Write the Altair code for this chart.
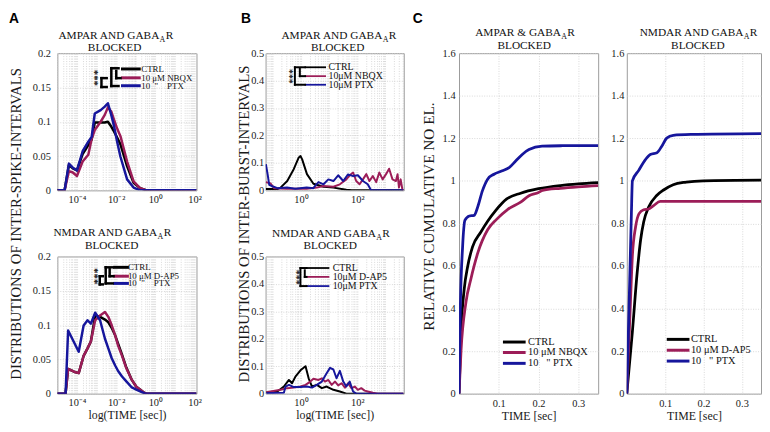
import altair as alt
import pandas as pd

SERIF = "Liberation Serif"
SANS = "Liberation Sans"
C_CTRL = "#000000"
C_MAG = "#9c1d58"
C_BLUE = "#16169c"

# ---------------- Panel A (inter-spike intervals), time given as log10(seconds)
a1_log_t = [-5.0, -4.63, -4.41, -4.21, -4.0, -3.71, -3.42, -3.25, -3.09, -2.79, -2.58,
            -2.42, -2.25, -2.11, -1.95, -1.78, -1.44, -1.11, -0.77, -0.44, 2.1]
a1_ctrl = [0, 0, 0.037, 0.032, 0.029, 0.053, 0.066, 0.074, 0.099, 0.099, 0.099,
           0.100, 0.093, 0.086, 0.077, 0.067, 0.035, 0.011, 0.003, 0, 0]
a1_nbqx = [0, 0, 0.028, 0.026, 0.021, 0.042, 0.052, 0.075, 0.088, 0.100, 0.110,
           0.121, 0.115, 0.103, 0.090, 0.079, 0.042, 0.013, 0.003, 0, 0]
a1_ptx = [0, 0, 0.039, 0.033, 0.029, 0.057, 0.071, 0.078, 0.112, 0.117, 0.122,
          0.127, 0.110, 0.094, 0.071, 0.049, 0.016, 0.004, 0, 0, 0]

a2_log_t = [-5.0, -4.58, -4.45, -4.15, -3.91, -3.66, -3.46, -3.29, -3.07, -2.82, -2.57,
            -2.4, -2.23, -2.05, -1.9, -1.7, -1.48, -1.2, -0.97, -0.6, -0.47, 2.1]
a2_ctrl = [0, 0, 0.036, 0.032, 0.030, 0.055, 0.066, 0.076, 0.114, 0.112, 0.108,
           0.104, 0.096, 0.085, 0.073, 0.057, 0.038, 0.020, 0.010, 0.002, 0, 0]
a2_dap5 = [0, 0, 0.036, 0.032, 0.030, 0.055, 0.066, 0.076, 0.107, 0.114, 0.119,
           0.112, 0.100, 0.085, 0.070, 0.055, 0.037, 0.020, 0.010, 0.002, 0, 0]
a2_ptx = [0, 0, 0.092, 0.075, 0.061, 0.0995, 0.107, 0.102, 0.118, 0.107, 0.080,
          0.066, 0.052, 0.041, 0.033, 0.025, 0.018, 0.009, 0.006, 0.001, 0, 0]

# ---------------- Panel B (inter-burst intervals), time given as log10(seconds)
b1_ctrl_log_t = [-1.25, -0.84, -0.73, -0.49, -0.26, -0.08, -0.02, 0.04, 0.21, 0.44, 0.80,
                 1.15, 1.61, 1.8, 3.64]
b1_ctrl = [0.005, 0.005, 0.01, 0.034, 0.077, 0.12, 0.125, 0.113, 0.059, 0.024, 0.013,
           0.01, 0.002, 0, 0]
b1_nbqx_log_t = [-1.25, -1.08, -0.96, -0.5, 0.2, 0.56, 0.80, 1.15, 1.38, 1.61,
                 1.73, 1.85, 1.96, 2.08, 2.20, 2.32, 2.43, 2.55, 2.67, 2.78,
                 2.90, 3.02, 3.13, 3.25, 3.37, 3.43, 3.48, 3.54, 3.60, 3.64]
b1_nbqx = [0.03, 0.025, 0.008, 0.006, 0.006, 0.01, 0.016, 0.013, 0.022, 0.04,
           0.055, 0.065, 0.034, 0.022, 0.04, 0.059, 0.034, 0.052, 0.03, 0.065,
           0.04, 0.059, 0.079, 0.04, 0.034, 0.059, 0.01, 0.04, 0.004, 0]
b1_ptx_log_t = [-1.25, -1.19, -1.13, -1.02, -0.84, -0.5, -0.2, 0.2, 0.44, 0.50, 0.62,
                0.80, 0.97, 1.15, 1.32, 1.50, 1.67, 1.85, 2.02, 2.20, 2.37, 2.49, 3.64]
b1_ptx = [0.095, 0.06, 0.02, 0.015, 0.008, 0.01, 0.006, 0.01, 0.008, 0.016, 0.03,
          0.022, 0.04, 0.034, 0.055, 0.034, 0.058, 0.052, 0.055, 0.034, 0.022, 0, 0]

b2_ctrl_log_t = [-1.23, -0.84, -0.61, -0.43, -0.32, -0.20, -0.02, 0.16, 0.27, 0.39, 0.56,
                 0.74, 0.91, 1.15, 1.38, 1.61, 3.64]
b2_ctrl = [0.005, 0.008, 0.026, 0.05, 0.038, 0.062, 0.085, 0.1, 0.056, 0.026, 0.032,
           0.02, 0.026, 0.014, 0.008, 0, 0]
b2_dap5_log_t = [-1.23, -0.73, -0.49, -0.26, -0.02, 0.16, 0.33, 0.44, 0.62, 0.74,
                 0.85, 0.97, 1.09, 1.21, 1.32, 1.44, 1.56, 1.67, 1.79, 1.91,
                 2.02, 2.14, 2.26, 2.37, 2.55, 2.72, 3.64]
b2_dap5 = [0.005, 0.014, 0.02, 0.022, 0.026, 0.032, 0.044, 0.054, 0.05, 0.056,
           0.044, 0.05, 0.032, 0.044, 0.03, 0.038, 0.022, 0.038, 0.02, 0.026,
           0.014, 0.02, 0.011, 0.008, 0.003, 0, 0]
b2_ptx_log_t = [-1.23, -0.61, -0.55, -0.43, -0.26, -0.02, 0.21, 0.39, 0.56, 0.74, 0.91,
                1.03, 1.15, 1.26, 1.38, 1.50, 1.61, 1.73, 1.85, 1.96, 3.64]
b2_ptx = [0.002, 0.003, 0.026, 0.032, 0.024, 0.024, 0.026, 0.022, 0.032, 0.044, 0.074,
          0.094, 0.088, 0.056, 0.083, 0.044, 0.026, 0.044, 0.008, 0, 0]

# ---------------- Panel C (relative cumulative number of electrodes), time in seconds
c1_ctrl_t = [0, 0.005, 0.013, 0.022, 0.034, 0.055, 0.072, 0.092, 0.12, 0.155, 0.2, 0.255, 0.3, 0.35]
c1_ctrl = [0, 0.29, 0.49, 0.6, 0.69, 0.76, 0.81, 0.86, 0.915, 0.942, 0.963, 0.978, 0.986, 0.992]
c1_nbqx_t = [0, 0.005, 0.0175, 0.03, 0.047, 0.072, 0.095, 0.122, 0.155, 0.176, 0.2, 0.21, 0.255, 0.3, 0.35]
c1_nbqx = [0, 0.2, 0.43, 0.54, 0.66, 0.77, 0.82, 0.865, 0.9, 0.93, 0.945, 0.955, 0.965, 0.972, 0.978]
c1_ptx_t = [0, 0.003, 0.009, 0.015, 0.026, 0.038, 0.047, 0.059, 0.072, 0.088, 0.109, 0.126,
            0.1425, 0.159, 0.176, 0.209, 0.26, 0.35]
c1_ptx = [0, 0.38, 0.69, 0.815, 0.835, 0.838, 0.877, 0.954, 1.008, 1.031, 1.047, 1.062,
          1.093, 1.124, 1.147, 1.163, 1.165, 1.166]

c2_ctrl_t = [0, 0.0145, 0.027, 0.036, 0.044, 0.057, 0.078, 0.096, 0.121, 0.155, 0.2, 0.35]
c2_ctrl = [0, 0.289, 0.567, 0.722, 0.807, 0.877, 0.931, 0.957, 0.982, 0.994, 1.0, 1.003]
c2_dap5_t = [0, 0.0085, 0.0145, 0.023, 0.032, 0.044, 0.057, 0.07, 0.087, 0.35]
c2_dap5 = [0, 0.38, 0.645, 0.784, 0.846, 0.864, 0.868, 0.884, 0.903, 0.903]
c2_ptx_t = [0, 0.0077, 0.012, 0.0146, 0.0307, 0.0486, 0.0614, 0.0785, 0.0913, 0.104, 0.121, 0.168, 0.35]
c2_ptx = [0, 0.537, 0.846, 1.0, 1.048, 1.10, 1.124, 1.132, 1.163, 1.201, 1.214, 1.218, 1.222]

ONE = pd.DataFrame({"k": [0]})

CHAR_W = {"A": .722, "M": .889, "P": .556, "R": .667, " ": .25, "N": .722, "D": .722,
          "G": .722, "B": .667, "&": .778}


def text_w(s, fs):
    return sum(CHAR_W.get(ch, 0.6) for ch in s) * fs


def txt(s, x, y, size, align="left", baseline="alphabetic", font=SERIF, weight="normal",
        angle=0, color="#111111"):
    return alt.Chart(ONE).mark_text(text=s, align=align, baseline=baseline, font=font,
                                    fontSize=size, fontWeight=weight, angle=angle,
                                    color=color).encode(x=alt.value(x), y=alt.value(y))


def hseg(x1, x2, y, color="#000000", w=2.5):
    return alt.Chart(ONE).mark_rule(color=color, strokeWidth=w, strokeCap="square").encode(
        x=alt.value(x1), x2=alt.value(x2), y=alt.value(y))


def vseg(x, y1, y2, color="#000000", w=2.5):
    return alt.Chart(ONE).mark_rule(color=color, strokeWidth=w, strokeCap="square").encode(
        x=alt.value(x), y=alt.value(y1), y2=alt.value(y2))


def title_block(main, cx, y1, y2, fs=11.5):
    sub = fs * 0.7
    total = text_w(main, fs) + 0.722 * sub + 0.667 * fs
    end = cx - total / 2 + text_w(main, fs)
    return [
        txt(main, end, y1, fs, align="right"),
        txt("A", end + 0.3, y1 + 3, sub),
        txt("R", end + 0.722 * sub + 0.6, y1, fs),
        txt("BLOCKED", cx, y2, fs, align="center"),
    ]


def legend(x1, x2, ys, tx, labels, fs, lw):
    out = []
    for y, lab, col in zip(ys, labels, [C_CTRL, C_MAG, C_BLUE]):
        out.append(hseg(x1, x2, y, col, lw))
        out.append(txt(lab, tx, y, fs, baseline="middle"))
    return out


SUP = {-4: "10\u207b\u2074", -2: "10\u207b\u00b2", 0: "10\u2070", 2: "10\u00b2"}


def log_label_expr(exps):
    expr = "''"
    for e in exps:
        expr = f"(abs(log(datum.value)/LN10 - ({e})) < 0.001 ? '{SUP[e]}' : {expr})"
    return expr


AXIS_TXT = dict(labelFont=SERIF, titleFont=SERIF, labelFontSize=10.5, labelColor="#1a1a1a",
                titleColor="#1a1a1a", titleFontWeight="normal")


def x_log_axis(values, exps, title=None, pad=4):
    return alt.Axis(values=values, labelExpr=log_label_expr(exps), labelOverlap=False,
                    labelFlush=False, labelPadding=pad, grid=True, titleFontSize=12,
                    titlePadding=2, title=title, **AXIS_TXT)


def y_axis(values, pad, title=None, tx=0, ty=0, tfs=15):
    kw = dict(values=values, format="~g", labelPadding=pad, grid=True, title=title, **AXIS_TXT)
    if title:
        kw.update(titleFontSize=tfs, titleX=tx, titleY=ty, titleAlign="center",
                  titleBaseline="bottom", titleAngle=270)
    return alt.Axis(**kw)


def panel(series, xscale, yscale, xaxis, yaxis, w, h, sw, interp, annots):
    layers = []
    for xs, ys, col in series:
        df = pd.DataFrame({"t": xs, "v": ys})
        layers.append(
            alt.Chart(df).mark_line(color=col, strokeWidth=sw, interpolate=interp, clip=True,
                                    strokeJoin="round")
            .encode(x=alt.X("t:Q", scale=xscale, axis=xaxis),
                    y=alt.Y("v:Q", scale=yscale, axis=yaxis)))
    return alt.layer(*layers, *annots).properties(width=w, height=h)


def secs(log_list):
    return [10.0 ** e for e in log_list]


# ---------------- scales / axes
a_ticks = [m * 10.0 ** e for e in range(-5, 2) for m in range(1, 10)] + [100.0]
a_xscale = alt.Scale(type="log", domain=[1e-5, 10 ** 2.1], nice=False)
a_yscale = alt.Scale(domain=[0, 0.2], nice=False, zero=False)
b_lo, b_hi = 10 ** -1.26, 10 ** 3.65
b_ticks = [m * 10.0 ** e for e in range(-2, 4) for m in range(1, 10) if b_lo <= m * 10.0 ** e <= b_hi]
b_xscale = alt.Scale(type="log", domain=[b_lo, b_hi], nice=False)
b_yscale = alt.Scale(domain=[0, 0.5], nice=False, zero=False)
c_xscale = alt.Scale(domain=[0, 0.35], nice=False, zero=False)
c_yscale = alt.Scale(domain=[0, 1.6], nice=False, zero=False)

a_yvals = [0, 0.05, 0.1, 0.15, 0.2]
b_yvals = [0, 0.1, 0.2, 0.3, 0.4, 0.5]
c_yvals = [0, 0.2, 0.4, 0.6, 0.8, 1.0, 1.2, 1.4, 1.6]

W_A, H_A = 141, 139
W_B = 140
W_C1, W_C2, H_C = 141, 136, 345

a1_yaxis = y_axis(a_yvals, 7, "DISTRIBUTIONS OF INTER-SPIKE-INTERVALS", -34, 172.5)
a2_yaxis = y_axis(a_yvals, 7)
b1_yaxis = y_axis(b_yvals, 2, "DISTRIBUTIONS OF INTER-BURST-INTERVALS", -14, 172.5)
b2_yaxis = y_axis(b_yvals, 2)
c1_yaxis = y_axis(c_yvals, 4, "RELATIVE CUMULATIVE NO EL.", -23, 165, 15.5)
c2_yaxis = y_axis(c_yvals, 3)
c_xaxis = alt.Axis(values=[0.1, 0.2, 0.3], format="~g", labelPadding=5, grid=True,
                   title="TIME [sec]", titleFontSize=12, titlePadding=2, labelFlush=False,
                   **AXIS_TXT)

ditto_a = "10\u00a0\u00a0\"\u00a0\u00a0\u00a0\u00a0PTX"
ditto_c = "10\u00a0\u00a0\u00a0\"\u00a0PTX"
LETTER_Y = -42

# ---------------- A top
a1_ann = (title_block("AMPAR AND GABA", 58, -14.5, -2)
          + legend(66, 83, [16, 25, 33], 85, ["CTRL", "10 \u03bcM NBQX", ditto_a], 9, 3)
          + [vseg(54.7, 15.3, 33.3), hseg(54.7, 62, 15.3), hseg(54.7, 62, 33.3),
             vseg(59.7, 18, 25.3), hseg(59.7, 64, 25.3),
             vseg(44.7, 25.3, 34.3), hseg(44.7, 50, 25.3), hseg(44.7, 50, 34.3),
             txt("***", 37.3, 25, 11, align="center", baseline="middle", weight="bold", angle=90),
             txt("A", -49, LETTER_Y, 14, font=SANS, weight="bold", baseline="top", color="#000000")])
a1 = panel([(secs(a1_log_t), a1_ctrl, C_CTRL), (secs(a1_log_t), a1_nbqx, C_MAG),
            (secs(a1_log_t), a1_ptx, C_BLUE)],
           a_xscale, a_yscale, x_log_axis(a_ticks, [-4, -2, 0, 2]), a1_yaxis,
           W_A, H_A, 2.5, "linear", a1_ann)

# ---------------- A bottom
a2_ann = (title_block("NMDAR AND GABA", 55, -21, -7.5)
          + legend(58, 71, [11, 20, 27.3], 71.5, ["CTRL", "10 \u03bcM D-AP5", ditto_a], 9, 3)
          + [vseg(49, 11, 27.3), hseg(49, 56, 11), hseg(49, 56, 27.3),
             vseg(53, 13, 20), hseg(53, 57, 20),
             vseg(43, 20, 28.3), hseg(43, 46, 20), hseg(43, 46, 28.3),
             txt("***", 37.3, 20, 11, align="center", baseline="middle", weight="bold", angle=90)])
a2 = panel([(secs(a2_log_t), a2_ctrl, C_CTRL), (secs(a2_log_t), a2_dap5, C_MAG),
            (secs(a2_log_t), a2_ptx, C_BLUE)],
           a_xscale, a_yscale, x_log_axis(a_ticks, [-4, -2, 0, 2], "log(TIME [sec])"), a2_yaxis,
           W_A, H_A, 2.5, "linear", a2_ann)

# ---------------- B top
b1_ann = (title_block("AMPAR AND GABA", 73, -14, -2.5)
          + legend(40.3, 60.3, [14.3, 23.3, 32], 63.7, ["CTRL", "10\u03bcM NBQX", "10\u03bcM PTX"], 10, 1.8)
          + [vseg(29.7, 14.3, 32, w=2), hseg(29.7, 40, 14.3, w=2), hseg(29.7, 40, 32, w=2),
             vseg(34.7, 16, 23.3, w=2), hseg(34.7, 40, 23.3, w=2),
             txt("***", 23.7, 23.5, 10, align="center", baseline="middle", weight="bold", angle=90),
             txt("B", -25, LETTER_Y, 14, font=SANS, weight="bold", baseline="top", color="#000000")])
b1 = panel([(secs(b1_ctrl_log_t), b1_ctrl, C_CTRL), (secs(b1_nbqx_log_t), b1_nbqx, C_MAG),
            (secs(b1_ptx_log_t), b1_ptx, C_BLUE)],
           b_xscale, b_yscale, x_log_axis(b_ticks, [0, 2]), b1_yaxis,
           W_B, H_A, 2.0, "linear", b1_ann)

# ---------------- B bottom
b2_ann = (title_block("NMDAR AND GABA", 65.5, -20, -7.3)
          + legend(42, 63.7, [11.7, 20.7, 30], 68, ["CTRL", "10\u03bcM D-AP5", "10\u03bcM PTX"], 10, 1.8)
          + [vseg(35.3, 11.7, 30, w=2), hseg(35.3, 41.5, 11.7, w=2), hseg(35.3, 41.5, 30, w=2),
             vseg(39.7, 14, 20.7, w=2), hseg(39.7, 41.5, 20.7, w=2),
             txt("***", 30.3, 21, 10, align="center", baseline="middle", weight="bold", angle=90)])
b2 = panel([(secs(b2_ctrl_log_t), b2_ctrl, C_CTRL), (secs(b2_dap5_log_t), b2_dap5, C_MAG),
            (secs(b2_ptx_log_t), b2_ptx, C_BLUE)],
           b_xscale, b_yscale, x_log_axis(b_ticks, [0, 2], "log(TIME [sec])"), b2_yaxis,
           W_B, H_A, 2.0, "linear", b2_ann)

# ---------------- C left
c1_ann = (title_block("AMPAR & GABA", 66, -17.3, -4)
          + legend(46, 66, [292.7, 303.3, 314.3], 70, ["CTRL", "10 \u03bcM NBQX", ditto_c], 10.5, 3)
          + [txt("C", -47, LETTER_Y, 14, font=SANS, weight="bold", baseline="top", color="#000000")])
c1 = panel([(c1_ctrl_t, c1_ctrl, C_CTRL), (c1_nbqx_t, c1_nbqx, C_MAG), (c1_ptx_t, c1_ptx, C_BLUE)],
           c_xscale, c_yscale, c_xaxis, c1_yaxis, W_C1, H_C, 2.8, "monotone", c1_ann)

# ---------------- C right
c2_ann = (title_block("NMDAR AND GABA", 72, -17.3, -4)
          + legend(42, 62, [290, 301, 312], 65, ["CTRL", "10 \u03bcM D-AP5", ditto_c], 10.5, 3))
c2 = panel([(c2_ctrl_t, c2_ctrl, C_CTRL), (c2_dap5_t, c2_dap5, C_MAG), (c2_ptx_t, c2_ptx, C_BLUE)],
           c_xscale, c_yscale, c_xaxis, c2_yaxis, W_C2, H_C, 2.8, "monotone", c2_ann)

ab = alt.concat(a1, b1, a2, b2, columns=2, spacing={"row": 67, "column": 70}, bounds="flush")
cc = alt.hconcat(c1, c2, spacing=29, bounds="flush")

chart = (
    alt.hconcat(ab, cc, spacing=7)
    .properties(padding=0)
    .configure_view(stroke="#9a9a9a", strokeWidth=1)
    .configure_axis(labelFont=SERIF, titleFont=SERIF, labelColor="#1a1a1a", titleColor="#1a1a1a",
                    labelFontSize=10.5, titleFontWeight="normal", domain=False, ticks=False,
                    gridColor="#cfcfcf", gridDash=[1, 1.5], gridWidth=0.8)
)

chart.save("out.html", embed_options={"renderer": "svg", "actions": False})
